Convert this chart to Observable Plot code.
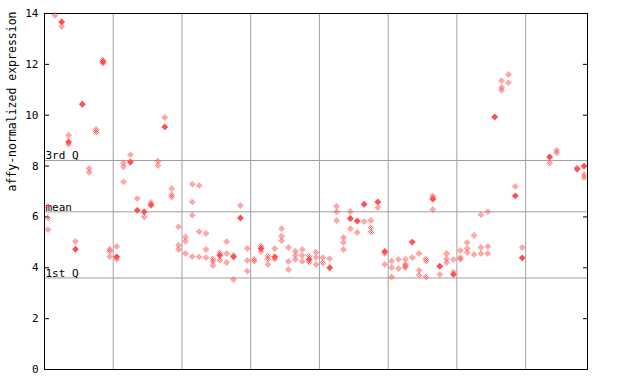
<!DOCTYPE html>
<html><head><meta charset="utf-8">
<script src="https://cdn.jsdelivr.net/npm/d3@7"></script>
<script src="https://cdn.jsdelivr.net/npm/@observablehq/plot@0.6"></script>
<style>body{margin:0;background:#fff}</style>
</head><body><div id="chart"></div>
<script>
// sample count and group boundaries (sample index)
const sampleCount = 79;
const groupBounds = [10, 20, 30, 40, 50, 60, 70];
const yTicks = [0, 2, 4, 6, 8, 10, 12, 14];
const refLabels = ["3rd Q", "mean", "1st Q"];
const refValues = [8.22, 6.2, 3.6];
const yTitle = "affy-normalized expression";

// replicate points drawn hollow (checkered): [sample index, value]
const hollowPoints = [
  [0,6.42],[0,5.96],[0,5.5],[1,13.93],[2,13.49],[3,9.21],[3,8.86],[4,5.03],
  [6,7.9],[6,7.75],[7,9.44],[7,9.34],[8,12.17],[8,12.04],[9,4.73],[9,4.65],[9,4.44],
  [10,4.84],[10,4.34],[11,8.12],[11,7.97],[11,7.38],[12,8.45],[13,6.72],[14,6.0],[15,6.57],
  [16,8.19],[16,8.02],[17,9.91],[18,7.12],[18,6.87],[18,6.78],[19,5.61],[19,4.89],[19,4.72],
  [20,5.21],[20,5.04],[20,4.56],[21,7.29],[21,6.59],[21,6.07],[21,4.44],[22,7.24],[22,5.42],[22,4.43],
  [23,5.35],[23,4.72],[23,4.4],[24,4.35],[24,4.25],[24,4.09],[25,4.59],[25,4.3],
  [26,5.03],[26,4.56],[26,4.21],[27,4.49],[27,3.54],[28,6.45],[29,4.76],[29,4.29],[29,3.87],
  [30,4.33],[30,4.26],[31,4.85],[31,4.64],[32,4.46],[32,4.34],[32,4.13],[33,4.76],[33,4.34],
  [34,5.54],[34,5.24],[34,5.06],[35,4.8],[35,4.25],[35,3.93],[36,4.65],[36,4.49],[36,4.33],
  [37,4.72],[37,4.48],[37,4.25],[38,4.46],[38,4.23],[39,4.61],[39,4.4],[39,4.13],
  [40,4.4],[40,4.19],[41,4.36],[42,6.42],[42,6.2],[42,5.86],[43,5.19],[43,4.99],[43,4.72],
  [44,6.21],[44,5.54],[45,5.39],[46,5.82],[47,5.86],[47,5.57],[47,5.41],[48,6.37],
  [49,4.56],[49,4.13],[50,4.26],[50,4.01],[50,3.64],[51,4.33],[51,3.97],
  [52,4.34],[52,4.14],[52,4.06],[52,4.01],[53,4.4],[54,4.56],[54,3.9],[54,3.71],
  [55,4.35],[55,4.26],[55,3.64],[56,6.83],[56,6.75],[56,6.29],[57,3.74],
  [58,4.56],[58,4.35],[58,4.21],[59,4.33],[59,3.83],[60,4.68],[60,4.4],[60,4.34],
  [61,4.99],[61,4.76],[61,4.6],[62,5.27],[62,4.52],[63,6.09],[63,4.8],[63,4.56],
  [64,6.21],[64,4.84],[64,4.56],[66,11.36],[66,11.09],[66,10.98],[67,11.6],[67,11.28],
  [68,7.2],[69,4.8],[73,8.12],[74,8.62],[74,8.52],[77,7.93],[78,7.67],[78,7.55]
];

// points drawn solid: [sample index, value]
const solidPoints = [
  [2,13.67],[3,8.95],[4,4.73],[5,10.43],[8,12.1],[10,4.43],[12,8.16],[13,6.26],[14,6.2],
  [15,6.47],[17,9.54],[25,4.49],[27,4.43],[28,5.96],[31,4.76],[33,4.43],[38,4.33],[41,4.0],
  [44,5.94],[45,5.84],[46,6.5],[48,6.59],[49,4.64],[53,5.01],[56,6.7],[57,4.06],[59,3.74],
  [65,9.93],[68,6.83],[69,4.39],[73,8.36],[77,7.88],[78,8.0]
];

const RED = "#ff4f4f";
const GRID = "#a0a0a0";
const PLACEHOLDER = "#010203";

const chart = Plot.plot({
  width: 640, height: 384,
  marginLeft: 44, marginRight: 53, marginTop: 13, marginBottom: 15,
  style: {fontFamily: "'DejaVu Sans Mono', monospace", fontSize: "11px", background: "white", color: "black"},
  x: {domain: [0, sampleCount], axis: null},
  y: {domain: [0, 14], axis: null},
  marks: [
    Plot.ruleX(groupBounds, {stroke: GRID}),
    Plot.ruleY(refValues, {stroke: GRID}),
    Plot.text(refLabels, {x: 0, y: (d, i) => refValues[i], text: d => d, textAnchor: "start", lineAnchor: "bottom", dx: 1, dy: -1, fill: "black"}),
    Plot.axisY(yTicks, {anchor: "left", tickSize: -5, tickPadding: 11, stroke: "black", fill: "black"}),
    Plot.axisY(yTicks, {anchor: "right", tickSize: -5, tickFormat: () => "", stroke: "black"}),
    Plot.frame({stroke: "black"}),
    Plot.dot(hollowPoints, {x: d => d[0] + 0.5, y: d => d[1], symbol: "diamond2", r: 3.1, fill: PLACEHOLDER, stroke: "none"}),
    Plot.dot(solidPoints, {x: d => d[0] + 0.5, y: d => d[1], symbol: "diamond2", r: 3.1, fill: RED, stroke: "none"}),
    Plot.text([yTitle], {frameAnchor: "left", rotate: -90, dx: -32, fontSize: 11.5, fill: "black"})
  ]
});

// checkered fill for hollow replicate markers
const ns = "http://www.w3.org/2000/svg";
const defs = document.createElementNS(ns, "defs");
const pat = document.createElementNS(ns, "pattern");
pat.setAttribute("id", "checker");
pat.setAttribute("patternUnits", "userSpaceOnUse");
pat.setAttribute("width", "2");
pat.setAttribute("height", "2");
for (const [px, py] of [[0, 0], [1, 1]]) {
  const r = document.createElementNS(ns, "rect");
  r.setAttribute("x", px); r.setAttribute("y", py);
  r.setAttribute("width", 1); r.setAttribute("height", 1);
  r.setAttribute("fill", RED);
  pat.appendChild(r);
}
defs.appendChild(pat);
chart.insertBefore(defs, chart.firstChild);
chart.querySelectorAll(`[fill="${PLACEHOLDER}"]`).forEach(el => el.setAttribute("fill", "url(#checker)"));

document.getElementById("chart").appendChild(chart);
</script>
</body></html>
